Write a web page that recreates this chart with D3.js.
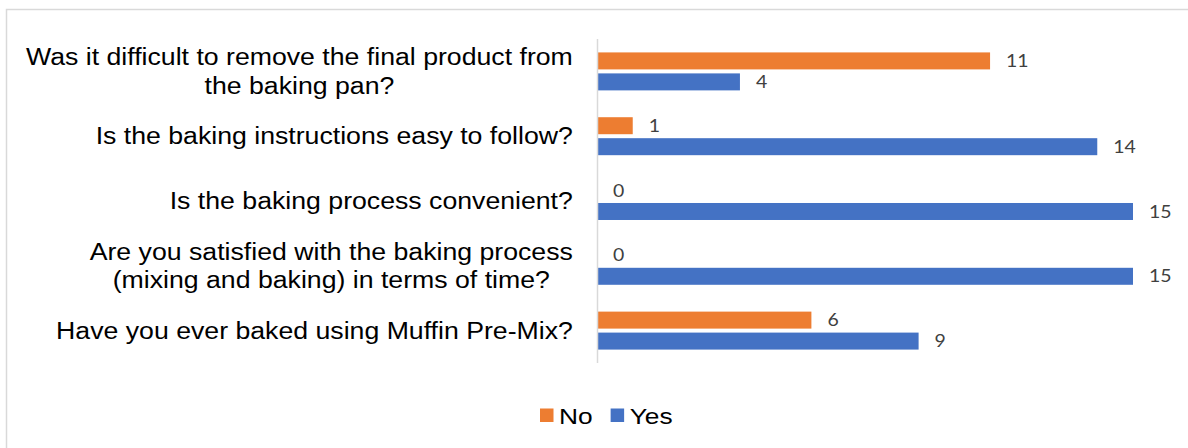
<!DOCTYPE html>
<html lang="en">
<head>
  <meta charset="UTF-8" />
  <title>Baking Survey</title>
  <script src="https://d3js.org/d3.v7.min.js"></script>
  <style>
    body { margin: 0; background: #fff; }
    svg { display: block; }
    .cat-label { font-family: "Liberation Sans", Arial, sans-serif; font-size: 23px; fill: #000; }
    .val-label { font-family: Lato, "Open Sans", sans-serif; font-size: 17px; fill: #404040; }
    .legend text { font-family: "Liberation Sans", Arial, sans-serif; font-size: 22.5px; fill: #000; }
  </style>
</head>
<body>
<div id="chart"></div>
<script>
// --- data ---
const categories = [
  "Was it difficult to remove the final product from\nthe baking pan?",
  "Is the baking instructions easy to follow?",
  "Is the baking process convenient?",
  "Are you satisfied with the baking process\n(mixing and baking) in terms of time?",
  "Have you ever baked using Muffin Pre-Mix?"
];
const seriesNames = ["No", "Yes"];
const noValues = [11, 1, 0, 0, 6];
const yesValues = [4, 14, 15, 15, 9];
const seriesColors = { "No": "#ED7D31", "Yes": "#4472C4" };

const W = 1188, H = 448;
const stretch = 1.145;    // the text in the picture is a bit wider than the font
const catStretch = 1.16;
const svg = d3.select("#chart").append("svg")
  .attr("width", W).attr("height", H);

// chart frame
svg.append("rect")
  .attr("x", 6.5).attr("y", 9.5)
  .attr("width", W + 20).attr("height", H + 20)
  .attr("fill", "none").attr("stroke", "#d9d9d9").attr("stroke-width", 1.5);

// --- scales ---
const x = d3.scaleLinear().domain([0, 15]).range([597, 1133]);
const y = d3.scaleBand().domain(d3.range(categories.length))
  .range([39, 363]).paddingInner(0.414).paddingOuter(0.207);
const ySub = d3.scaleBand().domain(seriesNames)
  .range([0, y.bandwidth()]).paddingInner(0.19);

const rows = categories.map((c, i) => ({
  label: c,
  values: [
    { key: "No", value: noValues[i] },
    { key: "Yes", value: yesValues[i] }
  ]
}));

// place a text at (px,py), widened horizontally
function place(sel, px, py, s = stretch) {
  sel.attr("transform", `translate(${px},${py}) scale(${s},1)`);
}

// --- bars ---
const groups = svg.selectAll(".grp").data(rows).enter().append("g")
  .attr("class", "grp")
  .attr("transform", (d, i) => `translate(0,${y(i)})`);

groups.selectAll("rect").data(d => d.values).enter().append("rect")
  .attr("x", x(0))
  .attr("y", d => ySub(d.key))
  .attr("width", d => x(d.value) - x(0))
  .attr("height", ySub.bandwidth())
  .attr("fill", d => seriesColors[d.key]);

groups.selectAll(".val-label").data(d => d.values).enter().append("text")
  .attr("class", "val-label")
  .attr("dy", "0.36em")
  .text(d => d.value)
  .each(function(d) {
    place(d3.select(this), x(d.value) + 16, ySub(d.key) + ySub.bandwidth() / 2);
  });

// --- axis line ---
svg.append("line")
  .attr("x1", x(0) + 0.5).attr("x2", x(0) + 0.5)
  .attr("y1", 39).attr("y2", 363)
  .attr("stroke", "#d9d9d9").attr("stroke-width", 1.5);

// --- category labels (wrapped lines centred in a right-aligned block) ---
const labelRight = 573, lineH = 28.5;
rows.forEach((r, i) => {
  const lines = r.label.split("\n");
  const cy = y(i) + y.bandwidth() / 2;
  const g = svg.append("g");
  const texts = lines.map(ln => g.append("text")
    .attr("class", "cat-label")
    .attr("text-anchor", "middle")
    .attr("dy", "0.35em")
    .text(ln));
  const maxW = d3.max(texts, t => t.node().getComputedTextLength()) * catStretch;
  const center = labelRight - maxW / 2;
  texts.forEach((t, j) => place(t, center, cy + (j - (lines.length - 1) / 2) * lineH, catStretch));
});

// --- legend ---
const legend = svg.append("g").attr("class", "legend");
let lx = 540;
seriesNames.forEach(name => {
  legend.append("rect")
    .attr("x", lx).attr("y", 408.5)
    .attr("width", 13.5).attr("height", 13.5)
    .attr("fill", seriesColors[name]);
  const t = legend.append("text")
    .attr("dy", "0.36em")
    .text(name);
  place(t, lx + 19, 415.5, 1.17);
  lx += 19 + t.node().getComputedTextLength() * 1.17 + 18;
});
</script>
</body>
</html>
